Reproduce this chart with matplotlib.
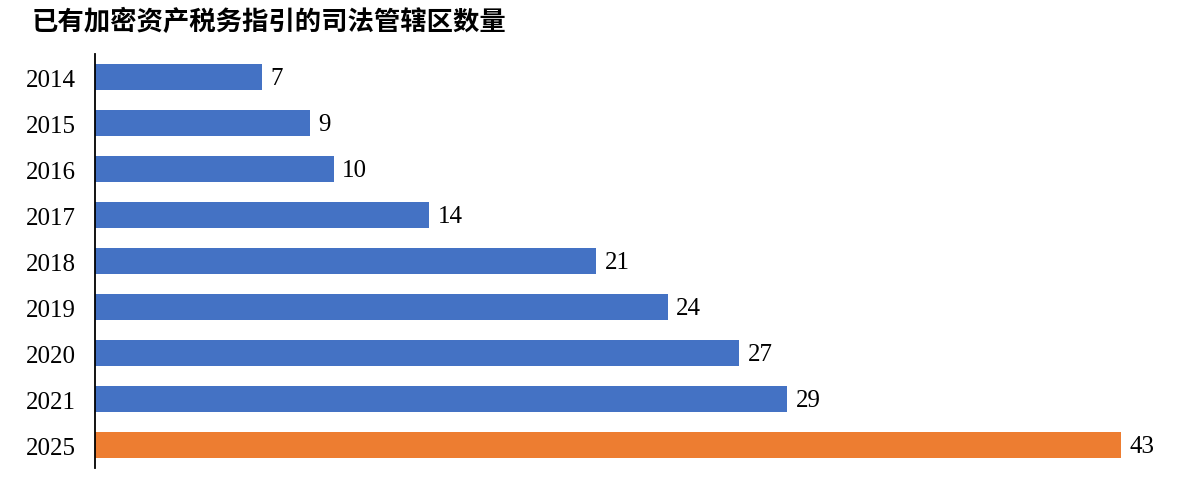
import matplotlib
matplotlib.use("Agg")
import matplotlib.pyplot as plt

years = ["2014", "2015", "2016", "2017", "2018", "2019", "2020", "2021", "2025"]
counts = [7, 9, 10, 14, 21, 24, 27, 29, 43]
bar_colors = ["#4472C4"] * 8 + ["#ED7D31"]
title = "已有加密资产税务指引的司法管辖区数量"

plt.rcParams["font.family"] = ["Liberation Serif", "DejaVu Serif"]

fig = plt.figure(figsize=(11.99, 4.89), dpi=100)
ax = fig.add_axes([0.0792, 0.0409, 0.8957, 0.8466])

pos = list(range(len(years)))
ax.barh(pos, counts, height=0.55, color=bar_colors)
ax.set_ylim(len(years) - 0.5, -0.5)
ax.set_xlim(0, 45)

for p, v in zip(pos, counts):
    ax.annotate(str(v), (v, p), xytext=(6, -1), textcoords="offset points",
                va="center", ha="left", fontsize=18, color="#000000")

ax.set_yticks(pos)
ax.set_yticklabels(years, fontsize=18)
ax.tick_params(axis="y", length=0, pad=14)
ax.set_xticks([])
for side in ["top", "right", "bottom"]:
    ax.spines[side].set_visible(False)
ax.spines["left"].set_linewidth(1.3)
ax.spines["left"].set_color("#000000")

fig.text(32 / 1199, 1 - 22 / 489, title, fontsize=19, fontweight="bold",
         family=["Noto Sans CJK SC", "DejaVu Sans"], va="center", ha="left")

fig.savefig("out.png", dpi=100, facecolor="white")
plt.close(fig)
